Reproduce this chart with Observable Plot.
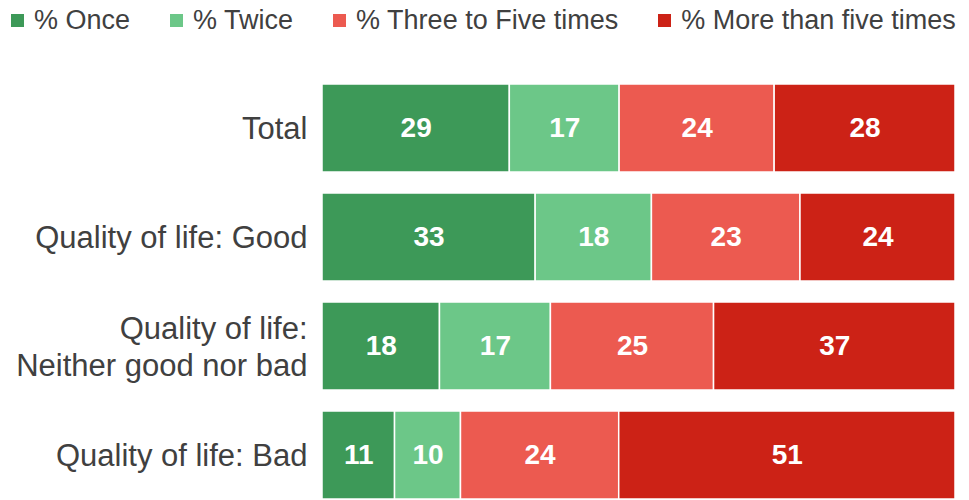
<!DOCTYPE html>
<html>
<head>
<meta charset="utf-8">
<script src="https://cdn.jsdelivr.net/npm/d3@7"></script>
<script src="https://cdn.jsdelivr.net/npm/@observablehq/plot@0.6"></script>
<style>
  html, body { margin: 0; padding: 0; background: #fff; }
  body { width: 969px; height: 500px; overflow: hidden; font-family: "Liberation Sans", Arial, sans-serif; }
  #legend { display: flex; align-items: center; height: 40px; padding-left: 11px; gap: 40px; color: #404040; font-size: 27px; white-space: nowrap; }
  .item { display: flex; align-items: center; gap: 10px; }
  .sw { width: 13px; height: 13px; display: inline-block; }
</style>
</head>
<body>
<div id="legend"></div>
<div id="chart"></div>
<script>
const categories = ["Total", "Quality of life: Good", "Quality of life:\nNeither good nor bad", "Quality of life: Bad"];
const series = ["% Once", "% Twice", "% Three to Five times", "% More than five times"];
const colors = ["#3d9958", "#6cc788", "#ec5a50", "#cc2216"];
const once = [29, 33, 18, 11];
const twice = [17, 18, 17, 10];
const threeToFive = [24, 23, 25, 24];
const moreThanFive = [28, 24, 37, 51];

const seriesValues = [once, twice, threeToFive, moreThanFive];
const data = [];
categories.forEach((c, i) => {
  series.forEach((s, j) => data.push({category: c, series: s, value: seriesValues[j][i]}));
});

const legend = document.getElementById("legend");
series.forEach((s, j) => {
  const it = document.createElement("div");
  it.className = "item";
  const sw = document.createElement("span");
  sw.className = "sw";
  sw.style.background = colors[j];
  const t = document.createElement("span");
  t.textContent = s;
  it.appendChild(sw); it.appendChild(t);
  legend.appendChild(it);
});

const stackOpts = {x: "value", y: "category", z: "series", offset: "normalize", order: series};

const chart = Plot.plot({
  width: 969,
  height: 460,
  marginTop: 44,
  marginBottom: 1,
  marginLeft: 322,
  marginRight: 14,
  style: {fontFamily: "'Liberation Sans', Arial, sans-serif", color: "#404040", background: "#fff"},
  x: {axis: null},
  y: {domain: categories, paddingInner: 0.193, paddingOuter: 0, label: null},
  color: {domain: series, range: colors},
  marks: [
    Plot.barX(data, Plot.stackX({...stackOpts, fill: "series", stroke: "white", strokeWidth: 1.5})),
    Plot.text(data, Plot.stackX({...stackOpts, text: d => String(d.value), fill: "white", fontWeight: "bold", fontSize: 28})),
    Plot.axisY({tickSize: 0, tickPadding: 15, fontSize: 31, lineHeight: 1.2, label: null, fill: "#404040", dy: -1})
  ]
});
document.getElementById("chart").appendChild(chart);
</script>
</body>
</html>
